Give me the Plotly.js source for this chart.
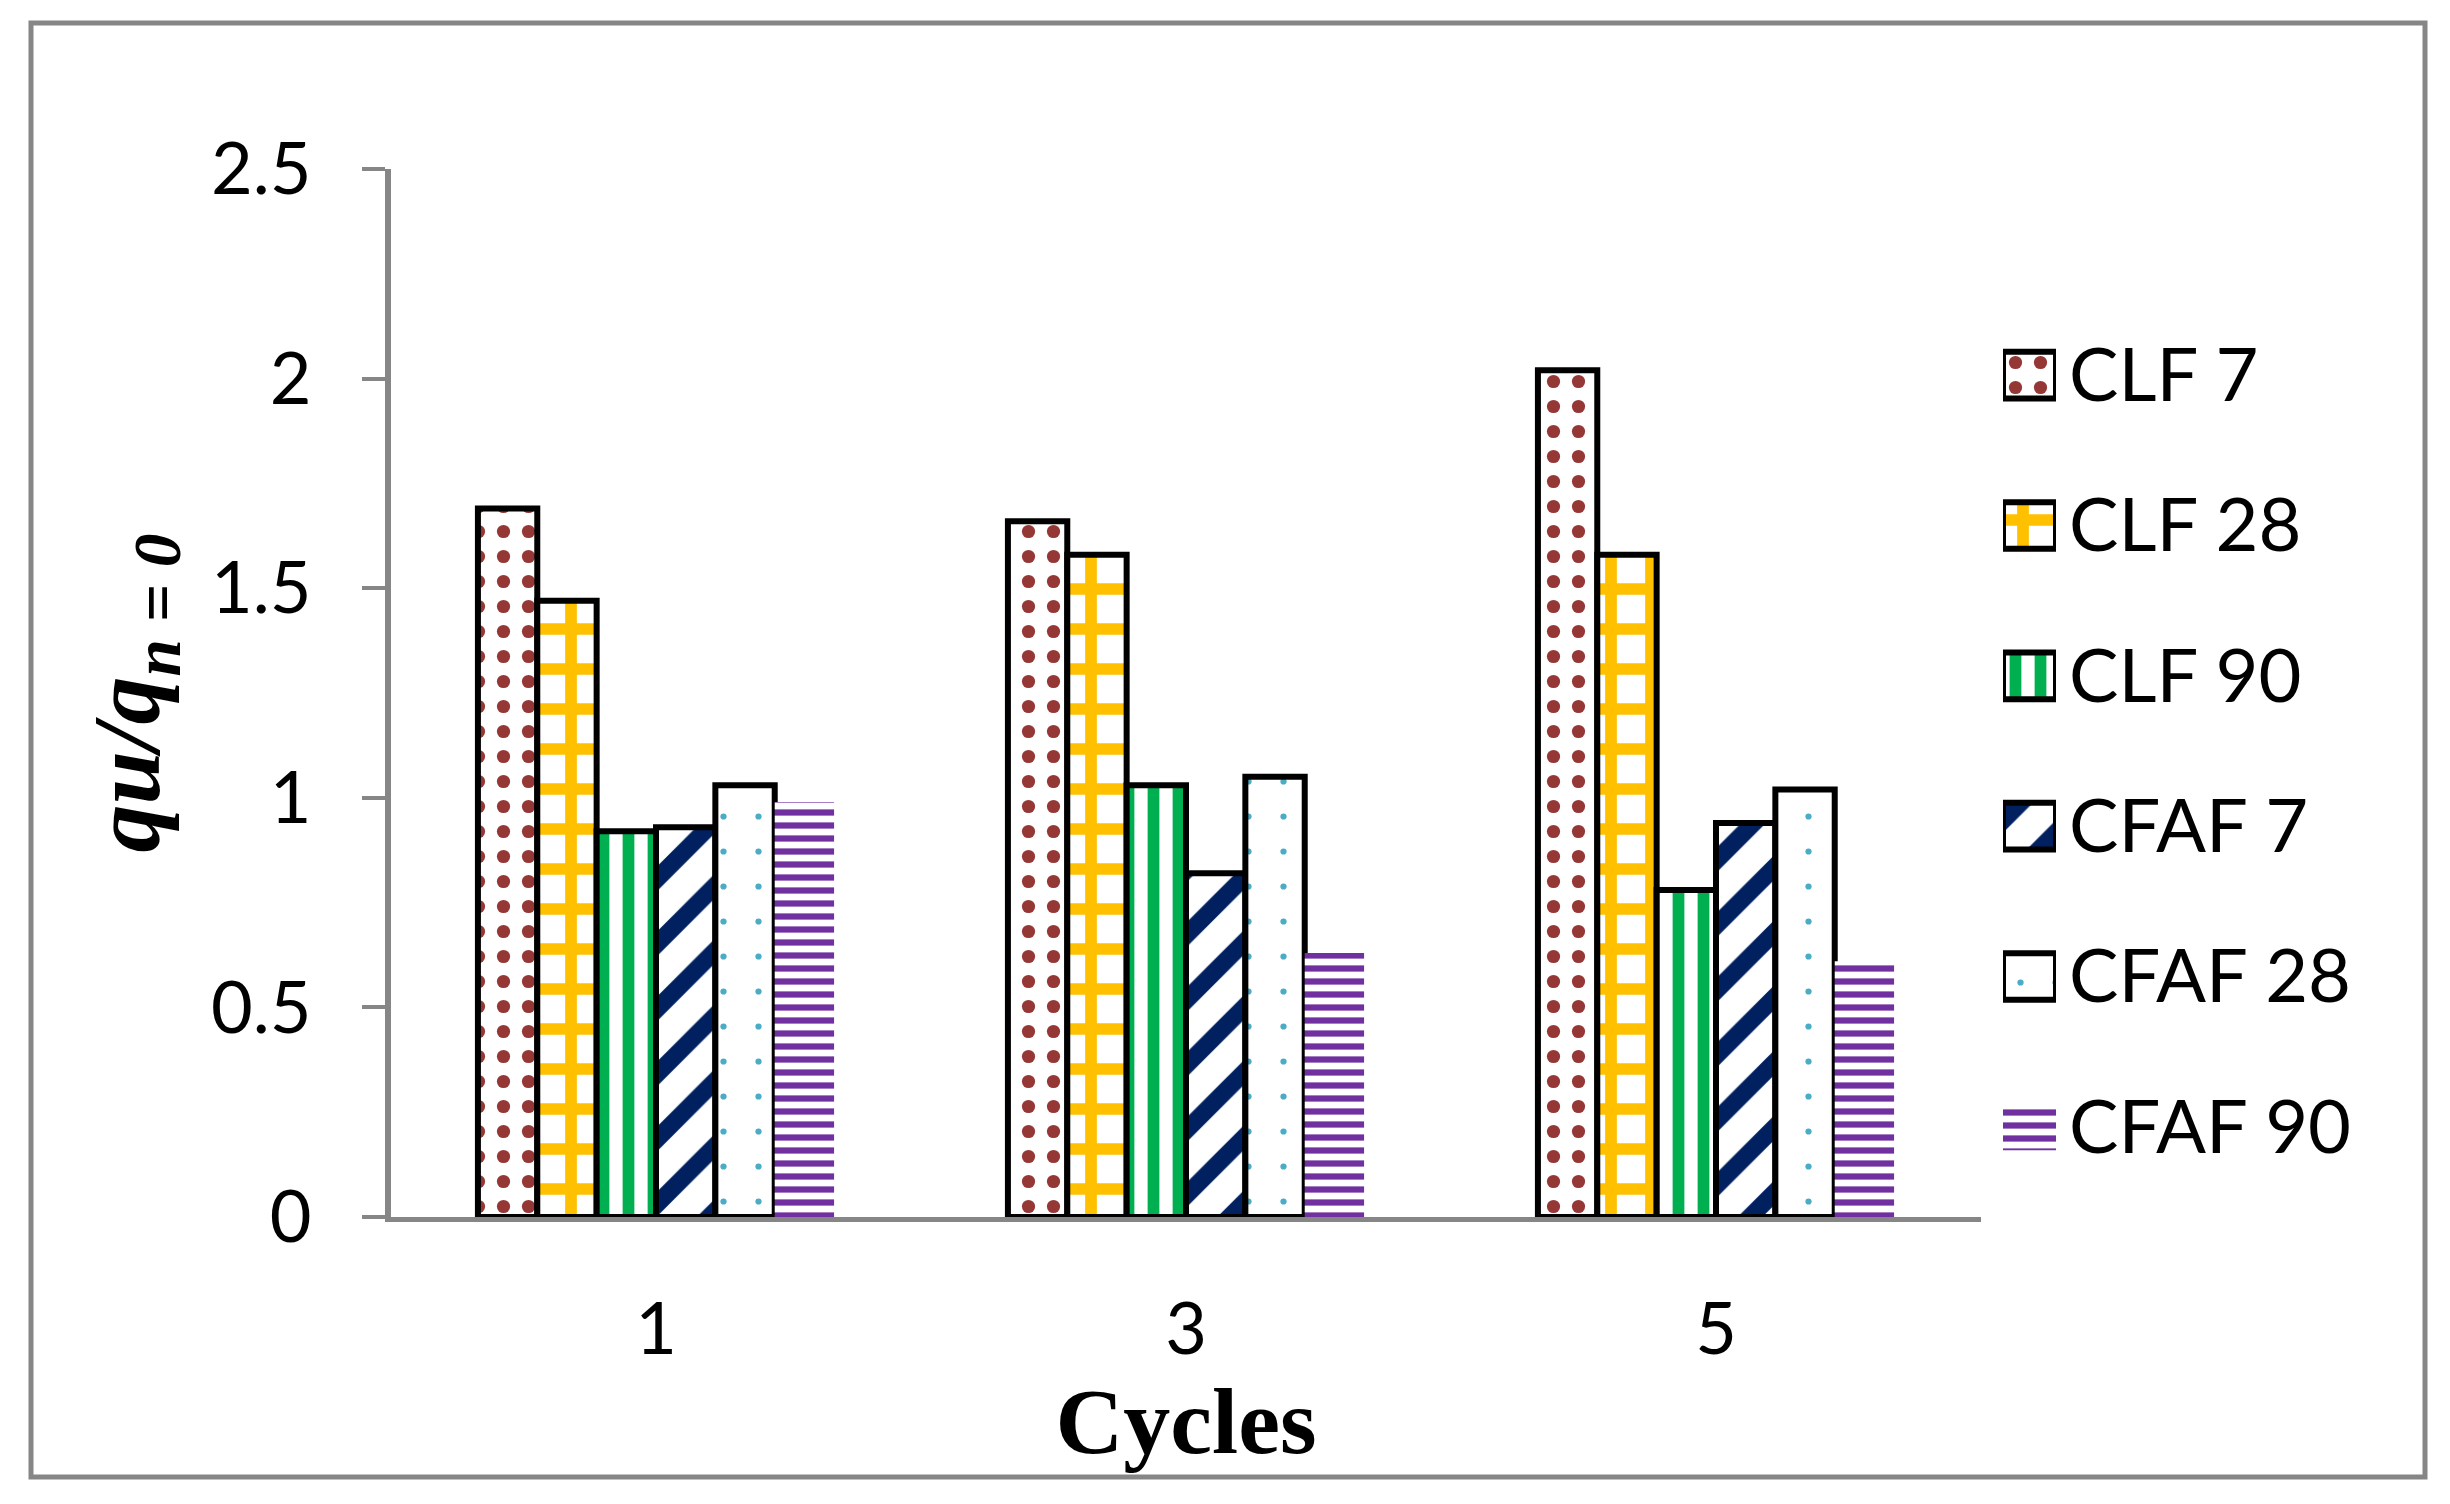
<!DOCTYPE html>
<html>
<head>
<meta charset="utf-8">
<script src="https://cdn.plot.ly/plotly-3.0.1.min.js"></script>
<style>
  html, body { margin: 0; padding: 0; background: #ffffff; }
  #chart { width: 2450px; height: 1504px; }
</style>
</head>
<body>
<div id="chart"></div>
<script>
// ---- data ----
var cycles = ['1', '3', '5'];
var seriesNames = ['CLF 7', 'CLF 28', 'CLF 90', 'CFAF 7', 'CFAF 28', 'CFAF 90'];
var clf7   = [1.69, 1.66, 2.02];
var clf28  = [1.47, 1.58, 1.58];
var clf90  = [0.92, 1.03, 0.78];
var cfaf7  = [0.93, 0.82, 0.94];
var cfaf28 = [1.03, 1.05, 1.02];
var cfaf90 = [0.99, 0.63, 0.61];
var yTickVals = [0, 0.5, 1, 1.5, 2, 2.5];
var yTickText = ['0', '0.5', '1', '1.5', '2', '2.5'];

var seriesValues = [clf7, clf28, clf90, cfaf7, cfaf28, cfaf90];

// ---- styles ----
var styles = [
  {color: '#953735', shape: '.', size: 25, solidity: 0.22, line: 6},
  {color: '#FFC000', shape: '+', size: 40, solidity: 0.5,  line: 6},
  {color: '#00B050', shape: '|', size: 25, solidity: 0.47, line: 6},
  {color: '#002060', shape: '/', size: 46, solidity: 0.38, line: 6},
  {color: '#4BACC6', shape: '.', size: 35, solidity: 0.025, line: 6},
  {color: '#7030A0', shape: '-', size: 13, solidity: 0.48, line: 0}
];

function markerFor(st) {
  return {
    color: st.color,
    pattern: {shape: st.shape, fgcolor: st.color, bgcolor: '#ffffff',
              size: st.size, solidity: st.solidity, fillmode: 'replace'},
    line: {color: '#000000', width: st.line}
  };
}

var traces = [];
seriesNames.forEach(function (name, i) {
  traces.push({
    type: 'bar', name: name, x: cycles, y: seriesValues[i],
    xaxis: 'x', yaxis: 'y', marker: markerFor(styles[i]),
    showlegend: false, hoverinfo: 'x+y+name'
  });
});

// legend swatches drawn as a small bar subplot (same patterns, bigger swatches)
seriesNames.forEach(function (name, i) {
  traces.push({
    type: 'bar', orientation: 'h', name: name, x: [1], y: [name],
    xaxis: 'x2', yaxis: 'y2', width: 0.31, offsetgroup: 'legend',
    marker: markerFor(styles[i]), showlegend: false, hoverinfo: 'name'
  });
});

var gray = '#868686';
var tickFont = {family: 'Lato, "Noto Sans", sans-serif', size: 72, color: '#000000'};

var layout = {
  width: 2450, height: 1504,
  margin: {l: 0, r: 0, t: 0, b: 0, pad: 0},
  paper_bgcolor: '#ffffff', plot_bgcolor: 'rgba(0,0,0,0)',
  barmode: 'group', bargap: 0.328, bargroupgap: 0,
  showlegend: false,
  xaxis: {
    domain: [391 / 2450, 1981 / 2450],
    type: 'category', categoryarray: cycles,
    showline: true, linecolor: gray, linewidth: 5,
    ticks: '', showgrid: false, zeroline: false,
    tickfont: tickFont, ticklabelstandoff: 46,
    automargin: false,
    title: {text: '<b>Cycles</b>', standoff: 0,
            font: {family: '"Liberation Serif", "DejaVu Serif", serif', size: 94, color: '#000000'}}
  },
  yaxis: {
    domain: [1 - 1217 / 1504, 1 - 169 / 1504],
    range: [0, 2.5], tickvals: yTickVals, ticktext: yTickText,
    showline: true, linecolor: gray, linewidth: 6,
    ticks: 'outside', ticklen: 23, tickwidth: 4, tickcolor: gray,
    showgrid: false, zeroline: false,
    tickfont: tickFont, ticklabelstandoff: 36,
    automargin: false,
    title: {text: '<b><i>qu/q<sub>n = 0</sub></i></b>', standoff: 21,
            font: {family: '"Liberation Serif", "DejaVu Serif", serif', size: 96, color: '#000000'}}
  },
  xaxis2: {
    domain: [2003 / 2450, 2056 / 2450], range: [0, 1],
    visible: false, fixedrange: true
  },
  yaxis2: {
    domain: [1 - 1202 / 1504, 1 - 300 / 1504],
    anchor: 'x2', side: 'right', type: 'category',
    categoryarray: seriesNames, range: [5.5, -0.5],
    showline: false, showgrid: false, zeroline: false, ticks: '',
    tickfont: {family: 'Lato, "Noto Sans", sans-serif', size: 74, color: '#000000'},
    ticklabelstandoff: 12, automargin: false, fixedrange: true
  },
  shapes: [{
    type: 'rect', xref: 'paper', yref: 'paper',
    x0: 31 / 2450, x1: 2425 / 2450, y0: 1 - 1477 / 1504, y1: 1 - 23 / 1504,
    line: {color: gray, width: 5}, fillcolor: 'rgba(0,0,0,0)', layer: 'below'
  }]
};

Plotly.newPlot('chart', traces, layout, {displayModeBar: false, staticPlot: true});
</script>
</body>
</html>
